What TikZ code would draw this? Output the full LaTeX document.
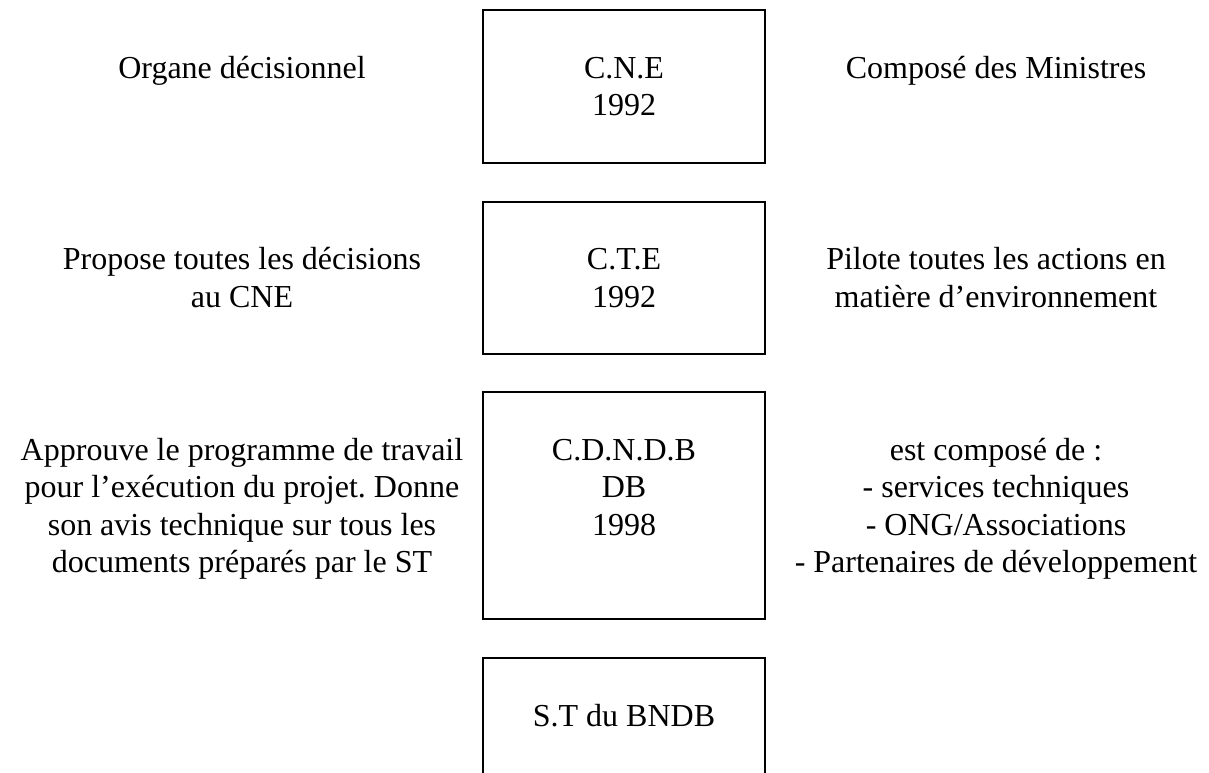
\documentclass[tikz,border=0pt]{standalone}
\usepackage{fontspec}
\setmainfont{Liberation Serif}
\usetikzlibrary{positioning}

\begin{document}
\frenchspacing
\begin{tikzpicture}[x=0.375pt, y=-0.375pt, font=\fontsize{12pt}{14pt}\selectfont,
    box/.style={draw, line width=0.75pt, text width=105.75pt, align=flush center,
      inner sep=0pt, text height=25.5pt, anchor=north},
    side/.style={text width=180pt, align=flush center, inner sep=0pt, anchor=base}]
    \useasboundingbox (0,0) rectangle (1209,772);
    \clip (0,0) rectangle (1209,772);
    \coordinate (lcol) at (242,0);
    \coordinate (rcol) at (996,0);

    \node[box, text depth=31.875pt] (cne) at (624,9) {C.N.E\\1992};
    \node[box, text depth=31.5pt, below=13.75pt of cne] (cte) {C.T.E\\1992};
    \node[box, text depth=59.625pt, below=13.75pt of cte] (cdndb) {C.D.N.D.B\\DB\\1998};
    \node[box, text depth=60pt, below=13.75pt of cdndb] (st) {S.T du BNDB};

    \node[side] (organe) at (cne.base -| lcol) {Organe décisionnel};
    \node[side] (ministres) at (cne.base -| rcol) {Composé des Ministres};

    \node[side] (propose) at (cte.base -| lcol) {Propose toutes les décisions\\au CNE};
    \node[side] (pilote) at (cte.base -| rcol) {Pilote toutes les actions en\\matière d’environnement};

    \node[side] (approuve) at (cdndb.base -| lcol)
      {Approuve le programme de travail\\pour l’exécution du projet. Donne\\son avis technique sur tous les\\documents préparés par le ST};
    \node[side] (membres) at (cdndb.base -| rcol)
      {est composé de :\\- services techniques\\- ONG/Associations\\- Partenaires de développement};
  \end{tikzpicture}
\end{document}
